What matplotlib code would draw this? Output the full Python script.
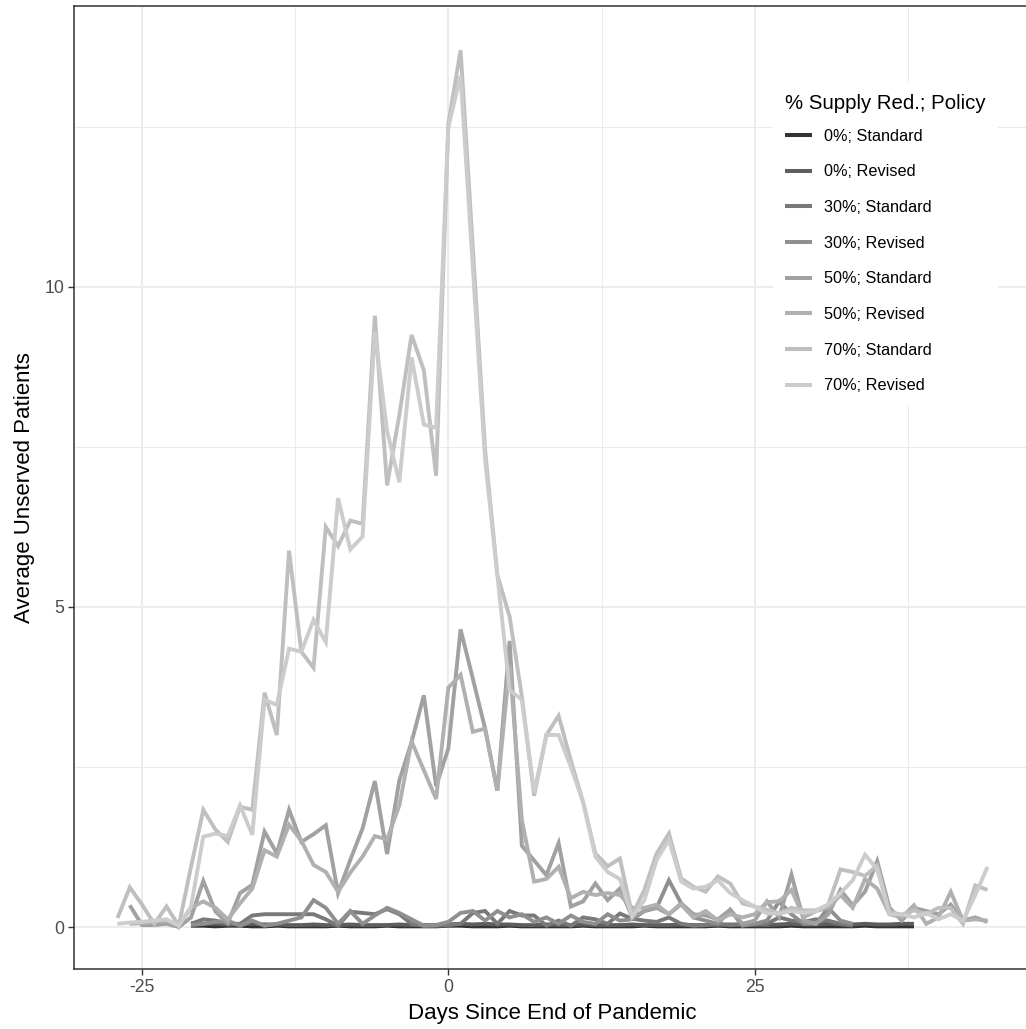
import numpy as np
import matplotlib
matplotlib.use("Agg")
import matplotlib.pyplot as plt

plt.rcParams['font.family'] = ['Liberation Sans', 'DejaVu Sans']
plt.rcParams['axes.unicode_minus'] = False

# first day of each run, counted from the end of the pandemic
start_70 = -27
start_50 = -26
start_30 = -21
start_0 = -21

supply_70_standard = [
    0.14, 0.62, 0.35, 0.05, 0.32, 0.02, 0.94, 1.83, 1.52, 1.33,
    1.88, 1.83, 3.66, 3.00, 5.88, 4.30, 4.05, 6.25, 5.95, 6.35,
    6.30, 9.55, 6.90, 8.00, 9.25, 8.70, 7.05, 12.55, 13.70, 10.60,
    7.45, 5.50, 4.85, 3.60, 2.05, 3.00, 3.30, 2.60, 1.95, 1.15,
    0.95, 1.07, 0.19, 0.58, 1.15, 1.46, 0.76, 0.63, 0.55, 0.79,
    0.68, 0.37, 0.32, 0.27, 0.21, 0.30, 0.26, 0.26, 0.35, 0.90,
    0.86, 0.80, 0.96, 0.24, 0.19, 0.26, 0.20, 0.30, 0.30, 0.05,
    0.65, 0.58,
]
supply_70_revised = [
    0.05, 0.07, 0.08, 0.10, 0.12, 0.02, 0.32, 1.41, 1.46, 1.42,
    1.90, 1.44, 3.55, 3.47, 4.35, 4.30, 4.80, 4.45, 6.70, 5.90,
    6.10, 9.30, 7.75, 6.95, 8.90, 7.85, 7.80, 12.50, 13.30, 10.30,
    7.30, 5.50, 3.70, 3.55, 2.10, 3.00, 3.00, 2.50, 1.95, 1.10,
    0.86, 0.75, 0.16, 0.42, 1.05, 1.36, 0.71, 0.60, 0.63, 0.73,
    0.53, 0.42, 0.32, 0.21, 0.21, 0.25, 0.22, 0.25, 0.35, 0.53,
    0.73, 1.13, 0.90, 0.20, 0.20, 0.15, 0.22, 0.12, 0.20, 0.10,
    0.50, 0.94,
]
supply_50_standard = [
    0.34, 0.03, 0.03, 0.05, 0.00, 0.15, 0.72, 0.24, 0.06, 0.53,
    0.66, 1.49, 1.15, 1.83, 1.33, 1.45, 1.59, 0.53, 1.05, 1.54,
    2.28, 1.14, 2.29, 2.89, 3.62, 2.20, 2.79, 4.65, 3.88, 3.10,
    2.13, 4.47, 1.27, 1.04, 0.81, 1.31, 0.32, 0.40, 0.68, 0.42,
    0.60, 0.16, 0.25, 0.30, 0.20, 0.37, 0.20, 0.18, 0.12, 0.27,
    0.05, 0.10, 0.40, 0.15, 0.82, 0.10, 0.05, 0.20, 0.58, 0.34,
    0.55, 1.03, 0.30, 0.10, 0.30, 0.25, 0.20, 0.35, 0.10, 0.15,
    0.08,
]
supply_50_revised = [
    0.05, 0.06, 0.08, 0.10, 0.02, 0.30, 0.40, 0.30, 0.12, 0.37,
    0.60, 1.20, 1.10, 1.60, 1.35, 0.97, 0.86, 0.55, 0.85, 1.10,
    1.42, 1.37, 1.90, 2.90, 2.45, 2.00, 3.74, 3.94, 3.05, 3.10,
    2.13, 4.10, 1.67, 0.71, 0.75, 0.94, 0.45, 0.55, 0.50, 0.53,
    0.50, 0.30, 0.30, 0.35, 0.20, 0.35, 0.15, 0.25, 0.10, 0.20,
    0.15, 0.20, 0.39, 0.40, 0.58, 0.15, 0.25, 0.30, 0.50, 0.30,
    0.75, 0.60, 0.20, 0.15, 0.34, 0.05, 0.15, 0.55, 0.10, 0.12,
    0.10,
]
supply_30_standard = [
    0.05, 0.12, 0.10, 0.05, 0.05, 0.18, 0.20, 0.20, 0.20, 0.20,
    0.20, 0.12, 0.02, 0.24, 0.22, 0.20, 0.28, 0.20, 0.05, 0.02,
    0.02, 0.03, 0.05, 0.22, 0.25, 0.05, 0.25, 0.18, 0.18, 0.02,
    0.10, 0.02, 0.15, 0.12, 0.05, 0.21, 0.13, 0.10, 0.08, 0.15,
    0.05, 0.02, 0.03, 0.05, 0.03, 0.05, 0.05, 0.05, 0.15, 0.10,
    0.08, 0.12, 0.10, 0.05, 0.02,
]
supply_30_revised = [
    0.03, 0.05, 0.08, 0.10, 0.02, 0.10, 0.02, 0.05, 0.10, 0.15,
    0.42, 0.30, 0.05, 0.25, 0.05, 0.18, 0.30, 0.22, 0.12, 0.02,
    0.03, 0.08, 0.22, 0.25, 0.10, 0.25, 0.15, 0.20, 0.08, 0.15,
    0.05, 0.18, 0.08, 0.05, 0.20, 0.10, 0.12, 0.25, 0.30, 0.73,
    0.37, 0.15, 0.10, 0.05, 0.27, 0.02, 0.05, 0.10, 0.40, 0.20,
    0.05, 0.05, 0.30, 0.10, 0.05,
]
supply_0_standard = [
    0.02, 0.02, 0.01, 0.02, 0.02, 0.01, 0.01, 0.02, 0.01, 0.01,
    0.01, 0.01, 0.02, 0.01, 0.01, 0.01, 0.02, 0.01, 0.01, 0.01,
    0.01, 0.02, 0.02, 0.01, 0.01, 0.01, 0.02, 0.01, 0.01, 0.01,
    0.01, 0.01, 0.02, 0.01, 0.01, 0.01, 0.01, 0.02, 0.01, 0.01,
    0.01, 0.01, 0.01, 0.02, 0.01, 0.01, 0.01, 0.01, 0.01, 0.02,
    0.01, 0.01, 0.01, 0.01, 0.01, 0.02, 0.01, 0.01, 0.01, 0.01,
]
supply_0_revised = [
    0.06, 0.05, 0.05, 0.04, 0.04, 0.05, 0.04, 0.04, 0.03, 0.03,
    0.04, 0.03, 0.03, 0.04, 0.03, 0.03, 0.03, 0.04, 0.03, 0.03,
    0.03, 0.04, 0.05, 0.04, 0.05, 0.04, 0.04, 0.03, 0.03, 0.04,
    0.03, 0.03, 0.04, 0.03, 0.03, 0.03, 0.04, 0.03, 0.03, 0.03,
    0.04, 0.03, 0.03, 0.03, 0.04, 0.03, 0.03, 0.03, 0.04, 0.05,
    0.04, 0.04, 0.05, 0.04, 0.04, 0.05, 0.04, 0.04, 0.05, 0.05,
]

series = [
    ("0%; Standard", start_0, supply_0_standard, "#333333"),
    ("0%; Revised", start_0, supply_0_revised, "#5E5E5E"),
    ("30%; Standard", start_30, supply_30_standard, "#797979"),
    ("30%; Revised", start_30, supply_30_revised, "#8F8F8F"),
    ("50%; Standard", start_50, supply_50_standard, "#A1A1A1"),
    ("50%; Revised", start_50, supply_50_revised, "#B0B0B0"),
    ("70%; Standard", start_70, supply_70_standard, "#BFBFBF"),
    ("70%; Revised", start_70, supply_70_revised, "#CCCCCC"),
]

W, H = 1026, 1029
fig = plt.figure(figsize=(W / 100, H / 100), dpi=100)
# panel runs a little past the right edge of the canvas
x0, x1, y0, y1 = 74, 1031, 6, 969
ax = fig.add_axes([x0 / W, 1 - y1 / H, (x1 - x0) / W, (y1 - y0) / H])

for label, start, vals, col in series:
    days = np.arange(start, start + len(vals))
    ax.plot(days, vals, color=col, lw=2.8, label=label, solid_joinstyle='miter',
            solid_capstyle='butt')

ax.set_xlim(-30.55, 47.55)
ax.set_ylim(-0.656, 14.39)

ax.set_xticks([-25, 0, 25])
ax.set_xticks([-12.5, 12.5, 37.5], minor=True)
ax.set_yticks([0, 5, 10])
ax.set_yticks([2.5, 7.5, 12.5], minor=True)
ax.grid(which='major', color='#EBEBEB', lw=1.3)
ax.grid(which='minor', color='#EBEBEB', lw=0.7)
ax.set_axisbelow(True)

for sp in ax.spines.values():
    sp.set_color('#333333')
    sp.set_linewidth(1.1)
ax.tick_params(which='major', length=4, width=1.0, color='#333333',
               labelsize=12.7, labelcolor='#4D4D4D', pad=3)
ax.tick_params(which='minor', length=0)

ax.set_xlabel("Days Since End of Pandemic", fontsize=16, color='black', labelpad=5)
ax.set_ylabel("Average Unserved Patients", fontsize=16, color='black', labelpad=7)

leg = ax.legend(title="% Supply Red.; Policy", loc='upper left',
                bbox_to_anchor=((773 - x0) / (x1 - x0), 1 - (82 - y0) / (y1 - y0)),
                fontsize=11.7, title_fontsize=14.7, frameon=True, fancybox=False,
                handlelength=1.66, handletextpad=0.7, labelspacing=1.27,
                borderpad=0.75, borderaxespad=0)
leg.get_frame().set_facecolor('white')
leg.get_frame().set_edgecolor('none')
leg.get_frame().set_alpha(1)
leg._legend_box.align = "left"
leg._legend_box.sep = 11.2  # tighter gap under the title
for h in leg.legend_handles:
    h.set_linewidth(2.9)
leg.set_zorder(5)

fig.savefig("out.png", dpi=100)
